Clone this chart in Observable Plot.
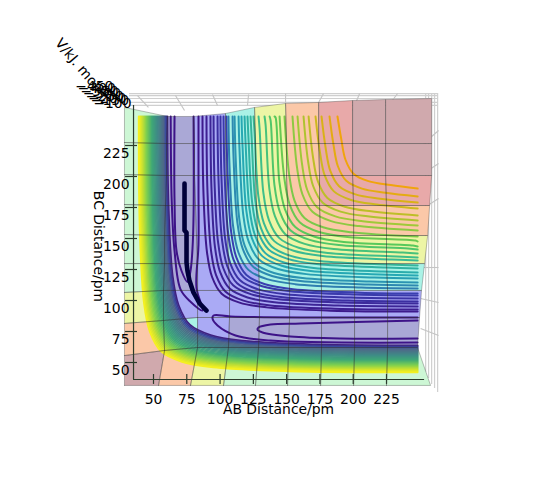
<!DOCTYPE html>
<html><head><meta charset="utf-8">
<script src="https://cdn.jsdelivr.net/npm/d3@7"></script>
<script src="https://cdn.jsdelivr.net/npm/@observablehq/plot@0.6"></script>
<style>html,body{margin:0;padding:0;background:#fff}svg{display:block}</style>
</head><body><div id="chart"></div>
<script>
const abTicks=[50,75,100,125,150,175,200,225];
const bcTicks=[50,75,100,125,150,175,200,225];
const zLabels=["−450","−400","−350","−300","−250","−200","−150","−100"];
const zAB=[19.9,21.8,23.8,25.7,27.7,29.6,31.6,33.5];
const zBC=[272.6,270.6,268.7,266.7,264.8,262.8,260.9,258.9];

// upper-valley contours
const uAB=[65.8,65.8,67.3,71,75.5,77.8,79.3,80.1,80.1];
const uBC=[248.4,180,140,124,115,124,142,170,248.4];
const vAB=[62.9,63.7,65.8,70.3,77.8,86.8,82.3,83.8,83.8,83.8];
const vBC=[248.4,180,140,109,99,92,110,145,190,248.4];
// elongated well contours
const e1AB=[248.3,160.4,107.9,95.1,94.3,98.1,111.6,137.9,248.3];
const e1BC=[86.3,86.3,87.1,87.9,85.5,79.8,71.8,67.7,66.1];
const e2AB=[248.3,160.4,137.9,128.9,128.1,131.9,152.9,190.5,248.3];
const e2BC=[83.9,81.5,80.6,78.2,76.6,74.2,71,69.4,69.4];
// L-shaped contours: asymptote on the top edge, on the right edge, and bend size
const lineAB=[86.8,89.8,92.8,95.1,98.1,100.3,102.6,104.8,106.3,109.4,110.9,113.9,116.1,118.4,120.6,122.9,125.1,128.9,133.4,137.2,140.9,144.7,148.4,154.4,158.2,162.7,166.5,171.7,176.2,182.2,188.2];
const lineBC=[91.1,92.7,95.2,97.6,99.2,101.6,104,105.6,109.7,112.1,114.5,117.7,120.2,122.6,125.8,128.2,132.3,134.7,137.9,141.1,143.6,147.6,151.6,156.5,160.5,164.5,168.6,174.2,179,183.9,190.3];
const lineBend=[48,48,48,49,49,49,50,50,50,51,51,51,52,52,52,52,52,52,52,52,52,51,50,50,49,48,47,46,44,42,40];
// Repulsive wall contours
const wallAB=[60.5,59.7,58.9,58.1,57.3,56.5,55.7,54.9,54.1,53.3,52.5,51.7,50.9,50.1,49.3,48.5,47.7,46.9,46.1,45.3,44.5,43.7,42.9,42.1,41.3,40.5,39.7,38.9];
const wallBC=[63.7,62.9,62.1,61.3,60.5,59.7,58.9,58.1,57.3,56.5,55.7,54.9,54.1,53.3,52.5,51.7,50.9,50.1,49.3,48.5,47.7,46.9,46.1,45.3,44.5,43.7,42.9,42.1];
// Trajectory
const trajAB=[73.3,73.3,73.3,74.8,74.8,75.5,77,80,84.6,89.8];
const trajBC=[194.4,176.6,156.5,154.8,130.6,124,116.1,106.5,97.6,91.9];
// Surface facets
const gridAB=[
[28.2,53.8,77.8,102.6,126.6,150.7,175.5,200.3,225,258.1],
[28.2,58.3,83.1,106.3,128.9,151.4,176.2,201,225.8,248.3],
[28.2,57.5,83.1,107.1,129.6,152.2,176.2,201,225.8,249.8],
[28.2,57.5,83.1,107.1,129.6,152.2,176.2,201,225.8,251.3],
[28.2,58.3,83.1,106.3,128.9,151.4,175.5,200.3,225,253.6],
[28.2,58.3,82.3,105.6,128.1,150.7,175.5,200.3,225,255.9],
[28.2,59,81.6,104.8,127.4,150.7,174.7,200.3,225,257.4],
[28.2,59.8,80.8,104.8,126.6,149.9,174.7,199.5,224.3,258.9],
[28.2,59.8,80.8,104.1,126.6,149.9,174,199.5,224.3,258.9],
[28.2,60.5,80.1,104.1,125.9,149.2,174,199.5,224.3,258.9]];
const gridBC=[
[31.5,31.5,31.5,31.5,31.5,31.5,31.5,31.5,31.5,31.5],
[55.6,59.7,62.1,62.1,62.1,62.1,62.1,62.1,62.1,62.1],
[81.5,83.9,86.3,86.3,86.3,86.3,86.3,86.3,86.3,86.3],
[106.5,108.1,108.1,108.1,108.1,108.1,108.1,108.1,108.1,108.1],
[129.8,129.8,129.8,129.8,129.8,129.8,129.8,129.8,129.8,129.8],
[153.2,152.4,152.4,152.4,152.4,152.4,152.4,152.4,152.4,152.4],
[177.4,176.6,176.6,176.6,176.6,176.6,176.6,176.6,176.6,176.6],
[201.6,200.8,200.8,200.8,200.8,200.8,200.8,200.8,200.8,200.8],
[227.4,226.6,226.6,226.6,226.6,226.6,226.6,226.6,226.6,226.6],
[255.7,248.4,248.4,250.8,255.7,258.9,259.7,261.3,262.1,262.9]];
const M="#d0a9ad",P="#e8a9a9",O="#fbc8a8",Y="#edf5a5",C="#aaf2e6",B="#aaaaf5",L="#aaa8d6",G="#cdf7d5";
const facetColors=[
[M,O,Y,G,G,G,G,G,G],
[O,C,B,L,L,L,L,L,L],
[Y,B,B,B,B,B,B,B,B],
[G,L,B,B,C,C,C,C,C],
[G,L,B,C,Y,Y,Y,Y,Y],
[G,L,B,C,Y,O,O,O,O],
[G,L,B,C,Y,O,P,P,P],
[G,L,B,C,Y,O,P,M,M],
[G,L,B,C,Y,O,P,M,M]];
// Back panes of the 3D box
const paneTopBC=[266.9,265.3,262.9,259.7,257.3];
const paneRightAB=[254.4,256.6,258.9,261.1,263.4];
const paneRightEnd=[41.9,37.1,32.3,29,25.8];
const paneFan=[[38,265.3,46.2,255.7],[66.5,265.3,73.3,253.2],[94.3,266.1,98.1,257.3],[121.4,266.1,120.6,257.3],
[149.2,266.9,149.2,258.9],[177.7,266.9,174,259.7],[204.8,266.9,199.5,253.2],[233.3,266.9,224.3,254],
[252.9,226.6,264.1,237.1],[252.9,202.4,264.1,210.5],[255.9,176.6,264.1,182.3],[250.6,126.6,264.1,126.6],
[250.6,101.6,264.1,98.4],[250.6,77.4,264.1,71.8]];

const TOP=248.4,RIGHT=248.4;
function lShape(id,X,Y,d,color){
  const p=[[X,TOP]];
  if(Y+2*d<TOP)p.push([X+.015*d,Y+2*d]);
  p.push([X+.07*d,Y+d],[X+.15*d,Y+.58*d],[X+.3*d,Y+.3*d],[X+.58*d,Y+.15*d],[X+d,Y+.07*d]);
  if(X+2*d<RIGHT)p.push([X+2*d,Y+.015*d]);
  p.push([RIGHT,Y]);
  return p.map(([x,y])=>({id,x,y,color}));
}
const lineColor=d3.scaleLinear().domain([0,7,8,12,17,20,24,27,30])
  .range(["#3d1a8c","#3a3fb0","#2f7fb0","#26a8b4","#3fbf8a","#58c95a","#a0c938","#cdb81e","#f0a40c"]);
const wallColor=d3.scaleLinear().domain([0,2,4,10,15,20,24,27])
  .range(["#40207f","#3a4aa0","#4f6788","#3f8a86","#3fa877","#7ccf50","#c8e030","#f4f020"]);
const curves=lineAB.flatMap((X,i)=>lShape("l"+i,X,lineBC[i],lineBend[i],lineColor(i)));
const wallCurves=wallAB.flatMap((X,i)=>lShape("w"+i,X,wallBC[i],56,wallColor(i)));
const toSeries=(a,b)=>a.map((x,i)=>({x,y:b[i]}));
const facets=[];
facetColors.forEach((row,r)=>row.forEach((color,c)=>{
  [[r,c],[r,c+1],[r+1,c+1],[r+1,c],[r,c]].forEach(([j,i])=>facets.push({id:r+"-"+c,x:gridAB[j][i],y:gridBC[j][i],color}));
}));
const dark="#2c3c2c", fs=13.9;
const plot=Plot.plot({
  width:541,height:500,marginLeft:133,marginBottom:121,marginTop:0,marginRight:0,
  style:{fontFamily:"DejaVu Sans",fontSize:fs+"px",background:"#fff",color:"#000"},
  x:{domain:[50,225],range:[153,386]},
  y:{domain:[50,225],range:[362,145]},
  color:{type:"identity"},
  marks:[
    Plot.ruleY(paneTopBC,{y:d=>d,x1:32,x2:263.4,stroke:"#cfcfcf",strokeWidth:1.2}),
    Plot.ruleX(paneRightAB,{x:d=>d,y1:(d,i)=>paneRightEnd[i],y2:266.9,stroke:"#cfcfcf",strokeWidth:1.2}),
    Plot.link(paneFan,{x1:d=>d[0],y1:d=>d[1],x2:d=>d[2],y2:d=>d[3],stroke:"#c4c4c4",strokeWidth:1.1}),
    Plot.line(facets,{x:"x",y:"y",z:"id",fill:"color",stroke:null}),
    Plot.line(wallCurves,{x:"x",y:"y",z:"id",stroke:"color",strokeWidth:1.8,curve:"catmull-rom"}),
    Plot.line(curves,{x:"x",y:"y",z:"id",stroke:"color",strokeWidth:2,curve:"catmull-rom"}),
    Plot.line(toSeries(uAB,uBC),{x:"x",y:"y",stroke:"#3d1388",strokeWidth:2,curve:"catmull-rom"}),
    Plot.line(toSeries(vAB,vBC),{x:"x",y:"y",stroke:"#3d1388",strokeWidth:2,curve:"catmull-rom"}),
    Plot.line(toSeries(e1AB,e1BC),{x:"x",y:"y",stroke:"#3d1388",strokeWidth:2,curve:"catmull-rom"}),
    Plot.line(toSeries(e2AB,e2BC),{x:"x",y:"y",stroke:"#3d1388",strokeWidth:2,curve:"catmull-rom"}),
    Plot.line(facets,{x:"x",y:"y",z:"id",stroke:"#333",strokeOpacity:.32,strokeWidth:1}),
    Plot.ruleX([35],{x:d=>d,y1:36.3,y2:257.3,stroke:dark,strokeWidth:1.2}),
    Plot.ruleY([36.3],{y:d=>d,x1:35,x2:253.6,stroke:dark,strokeWidth:1.2}),
    Plot.ruleX(abTicks,{x:d=>d,y1:32.3,y2:40.3,stroke:dark,strokeWidth:1.2}),
    Plot.ruleY(bcTicks,{y:d=>d,x1:29,x2:38,stroke:dark,strokeWidth:1.2}),
    Plot.axisX({ticks:abTicks,tickSize:0,tickPadding:15,fontSize:fs,tickFormat:d=>d,label:null,fill:"#000"}),
    Plot.axisY({ticks:bcTicks,tickSize:0,tickPadding:4,fontSize:fs,tickFormat:d=>d,label:null,dy:8,fill:"#000"}),
    Plot.line(toSeries(trajAB,trajBC),{x:"x",y:"y",stroke:"#00003a",strokeWidth:4.6,strokeLinecap:"round",strokeLinejoin:"round"}),
    Plot.text(["AB Distance/pm"],{x:143.9,y:12,text:d=>d,fontSize:fs,fill:"#000"}),
    Plot.text(["BC Distance/pm"],{x:8.7,y:143.6,text:d=>d,fontSize:fs,rotate:90,fill:"#000"}),
    Plot.text(["V/kJ. mol⁻¹"],{x:-4,y:287,text:d=>d,fontSize:fs,rotate:50,fill:"#000"}),
    Plot.text(zLabels,{x:(d,i)=>zAB[i],y:(d,i)=>zBC[i],text:d=>d,fontSize:fs,textAnchor:"end",fill:"#000"})
  ]
});
document.getElementById("chart").appendChild(plot);
</script></body></html>
